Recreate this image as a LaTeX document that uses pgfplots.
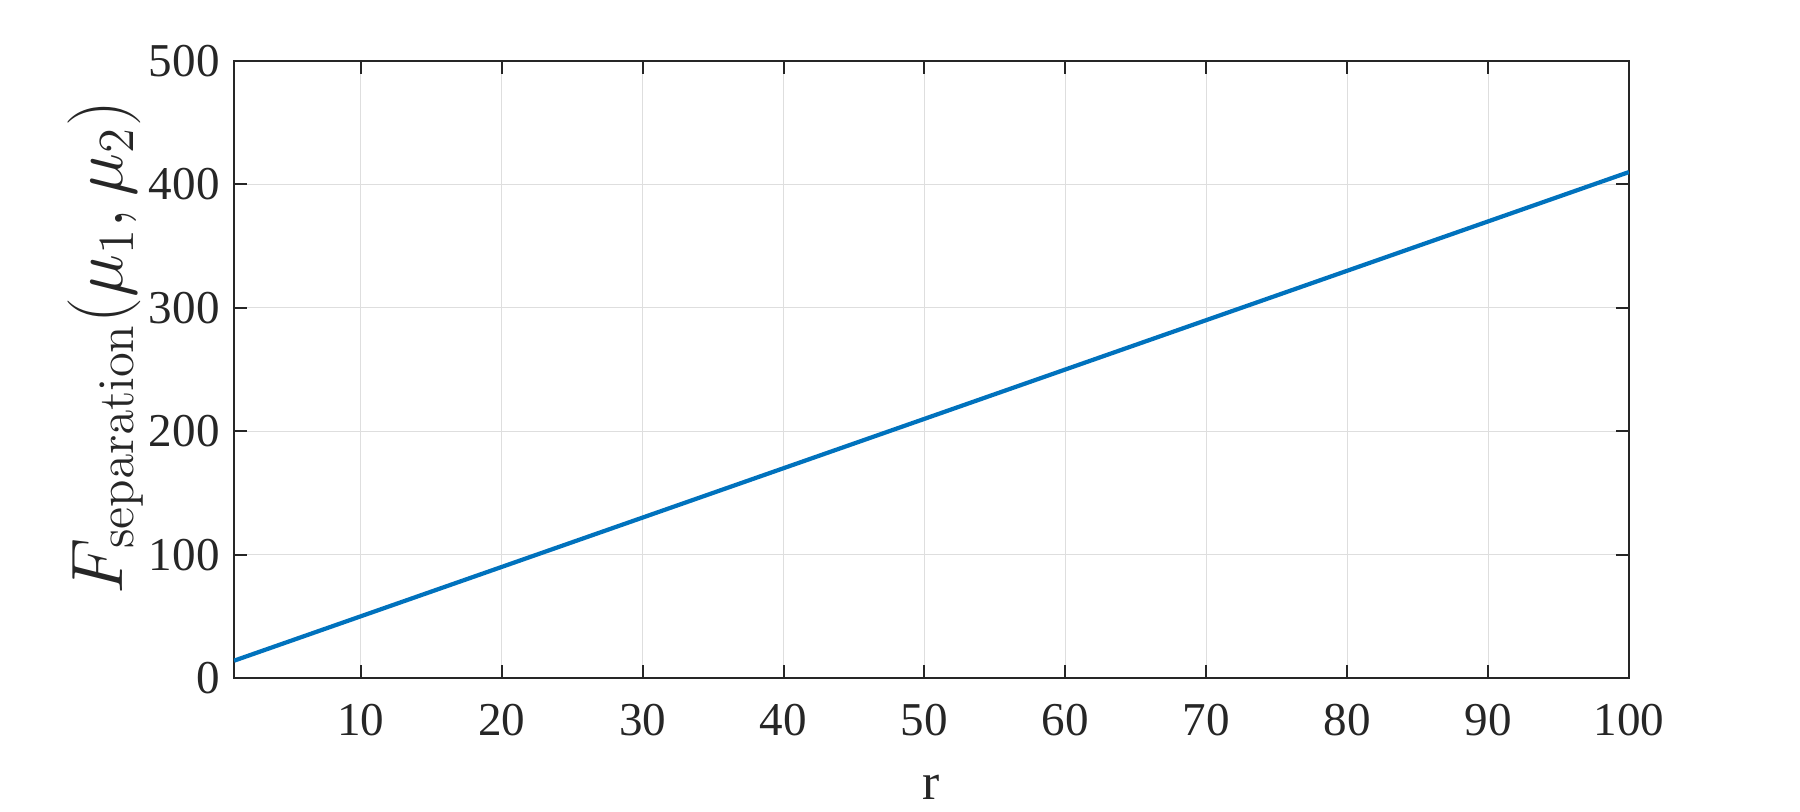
\documentclass[border=0pt]{standalone}
\usepackage[no-math]{fontspec}
\setmainfont{Liberation Serif}
\usepackage{pgfplots}
\pgfplotsset{compat=1.18}
\usetikzlibrary{calc}
\definecolor{mlblue}{rgb}{0,0.447,0.741}
\definecolor{mltext}{RGB}{38,38,38}
\definecolor{mlgrid}{RGB}{222,222,222}

\begin{document}
\begin{tikzpicture}
  \begin{axis}[
    scale only axis,
    width=13.95cm,
    height=6.17cm,
    xmin=1, xmax=100,
    ymin=0, ymax=500,
    xtick={10,20,...,100},
    ytick={0,100,...,500},
    tick align=inside,
    tick pos=both,
    major tick length=1.3mm,
    grid=major,
    major grid style={mlgrid, line width=0.3pt},
    axis line style={mltext, line width=0.55pt},
    every tick/.style={mltext, line width=0.55pt},
    ticklabel style={font=\fontsize{13.4}{16}\selectfont, text=mltext},
    /pgf/number format/assume math mode=true,
    xticklabel style={yshift=-1.4mm},
    yticklabel style={xshift=-0.2mm},
    xlabel={r},
    ylabel={$F_{\mathrm{separation}}(\mu_1,\mu_2)$},
    xlabel style={font=\fontsize{14.7}{17}\selectfont, text=mltext,
      at={(rel axis cs:0.5,0)}, anchor=base, yshift=-1.22cm},
    ylabel style={font=\fontsize{20.8}{24}\selectfont, text=mltext,
      at={(axis description cs:-0.0918,0.535)}, anchor=center},
  ]
    \addplot[mlblue, line width=1.2pt] coordinates {
      (1,14) (10,50) (20,90) (30,130) (40,170) (50,210)
      (60,250) (70,290) (80,330) (90,370) (100,410)
    };
  \end{axis}
  \path[use as bounding box] ($(current axis.south west)+(-2.34cm,-1.30cm)$)
    rectangle ($(current axis.north east)+(1.71cm,0.61cm)$);
\end{tikzpicture}
\end{document}
